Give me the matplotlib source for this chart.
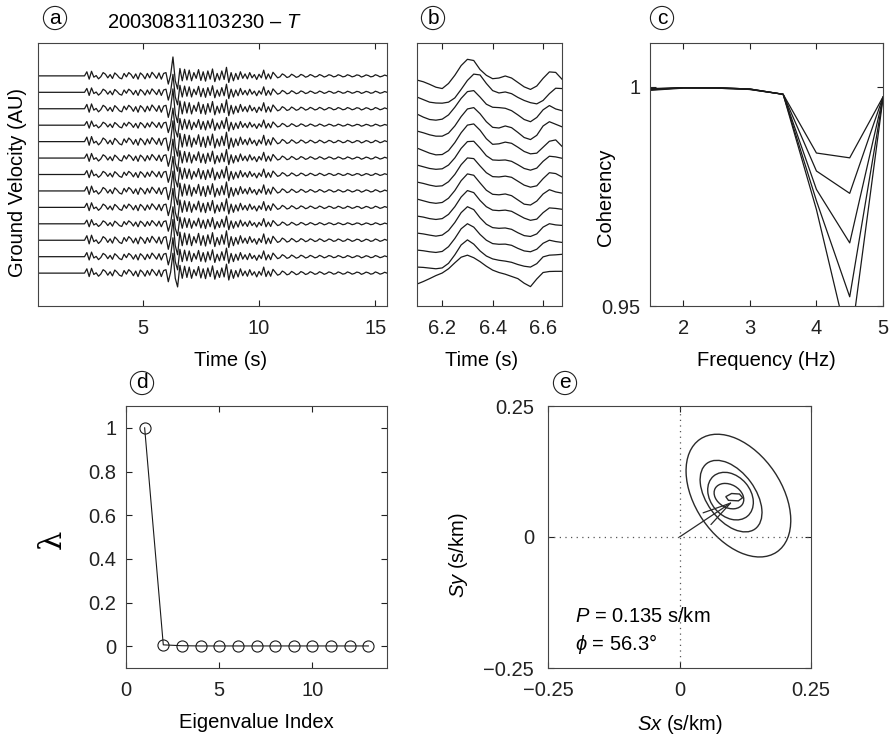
import numpy as np
import matplotlib
matplotlib.use("Agg")
import matplotlib.pyplot as plt
from matplotlib.patches import Ellipse, Polygon
from matplotlib.ticker import FuncFormatter

plt.rcParams['font.family'] = ['Liberation Sans', 'DejaVu Sans']
plt.rcParams['mathtext.fontset'] = 'custom'
plt.rcParams['mathtext.rm'] = 'Liberation Sans'
plt.rcParams['mathtext.it'] = 'Liberation Sans:italic'
plt.rcParams['font.size'] = 14.5

# --- (a) array record, one waveform per station (trace-spacing units) ---
n_traces = 13
a_onset = 2.5     # s, first sample after the flat pre-event part
a_dt = 0.1
a_wave = [
    0.00, 0.25, -0.20, 0.28, -0.08, 0.02, -0.18, -0.05, 0.20, 0.10,
    -0.12, 0.08, -0.16, 0.18, 0.05, -0.12, -0.18, 0.15, -0.06, 0.20,
    0.08, -0.15, 0.12, -0.20, 0.18, 0.05, -0.18, 0.15, -0.12, 0.22,
    0.05, -0.15, 0.18, -0.20, 0.15, 0.20, -0.50, 0.05, 1.15, -0.30,
    -0.80, 0.45, -0.30, 0.40, -0.25, 0.35, -0.30, 0.20, -0.15, 0.38,
    -0.28, 0.25, -0.32, 0.30, -0.20, 0.42, -0.35, 0.15, -0.25, 0.30,
    -0.22, 0.52, -0.40, 0.20, -0.30, 0.15, -0.22, 0.25, -0.15, 0.12,
    -0.18, 0.20, -0.12, 0.08, -0.22, 0.10, -0.12, 0.35, -0.20, 0.12,
    -0.18, 0.22, 0.05, -0.12, -0.06, 0.12, 0.04, -0.10, -0.05, 0.10,
    0.02, -0.09, -0.04, 0.09, 0.03, -0.08, -0.03, 0.08, 0.02, -0.07,
    -0.03, 0.08, 0.02, -0.07, -0.02, 0.07, 0.03, -0.06, -0.03, 0.07,
    0.02, -0.06, -0.03, 0.07, 0.02, -0.06, -0.02, 0.06, 0.03, -0.07,
    -0.02, 0.06, 0.02, -0.06, -0.03, 0.07, 0.02, -0.06, -0.02, 0.05, 0.00,
]
a_gain = [1.00, 0.95, 1.05, 0.90, 1.10, 1.00, 0.95, 1.05, 1.00, 0.90, 1.10, 1.00, 1.05]

# --- (b) zoom on the main arrival, top trace first ---
b_times = [6.100, 6.125, 6.150, 6.175, 6.200, 6.225, 6.250, 6.275,
           6.300, 6.325, 6.350, 6.375, 6.400, 6.425, 6.450, 6.475,
           6.500, 6.525, 6.550, 6.575, 6.600, 6.625, 6.650, 6.675]
b_traces = [
    [0.00, -0.10, -0.25, -0.42, -0.50, -0.20, 0.28, 0.85, 1.22, 1.15, 0.62, 0.28, 0.08, 0.12, 0.24, 0.12, -0.14, -0.40, -0.55, -0.35, 0.10, 0.48, 0.45, 0.05],
    [0.00, -0.15, -0.30, -0.35, -0.36, -0.30, -0.05, 0.45, 0.98, 1.35, 1.30, 0.80, 0.38, 0.24, 0.30, 0.20, -0.02, -0.20, -0.33, -0.40, -0.20, 0.20, 0.52, 0.50],
    [0.00, -0.18, -0.32, -0.36, -0.30, -0.05, 0.40, 0.92, 1.32, 1.38, 1.00, 0.58, 0.40, 0.38, 0.34, 0.20, -0.05, -0.32, -0.45, -0.20, 0.25, 0.50, 0.30, 0.20],
    [0.00, -0.10, -0.22, -0.30, -0.30, -0.12, 0.30, 0.85, 1.30, 1.38, 1.02, 0.55, 0.22, 0.18, 0.30, 0.20, -0.08, -0.38, -0.50, -0.25, 0.30, 0.55, 0.40, 0.25],
    [0.00, -0.15, -0.30, -0.40, -0.38, -0.15, 0.32, 0.90, 1.35, 1.42, 1.05, 0.55, 0.22, 0.25, 0.35, 0.28, 0.05, -0.20, -0.34, -0.30, 0.05, 0.40, 0.48, 0.10],
    [0.00, -0.10, -0.20, -0.25, -0.22, 0.00, 0.42, 0.98, 1.38, 1.40, 1.00, 0.55, 0.30, 0.28, 0.30, 0.22, 0.02, -0.20, -0.30, -0.18, 0.22, 0.52, 0.48, 0.40],
    [0.00, -0.08, -0.18, -0.25, -0.22, 0.02, 0.45, 1.02, 1.42, 1.38, 0.95, 0.55, 0.32, 0.30, 0.35, 0.28, 0.05, -0.18, -0.30, -0.22, 0.20, 0.55, 0.50, 0.30],
    [0.00, -0.10, -0.20, -0.25, -0.20, 0.05, 0.50, 1.08, 1.48, 1.40, 0.95, 0.52, 0.28, 0.25, 0.30, 0.20, -0.05, -0.30, -0.35, -0.12, 0.30, 0.55, 0.42, 0.35],
    [0.00, -0.06, -0.15, -0.20, -0.15, 0.10, 0.55, 1.12, 1.50, 1.38, 0.92, 0.55, 0.35, 0.32, 0.35, 0.28, 0.08, -0.12, -0.25, -0.18, 0.20, 0.48, 0.45, 0.40],
    [0.00, -0.05, -0.12, -0.18, -0.12, 0.15, 0.62, 1.20, 1.55, 1.38, 0.90, 0.52, 0.32, 0.28, 0.30, 0.22, 0.02, -0.15, -0.20, -0.05, 0.35, 0.55, 0.48, 0.45],
    [0.00, -0.04, -0.10, -0.14, -0.08, 0.20, 0.68, 1.25, 1.55, 1.35, 0.92, 0.58, 0.38, 0.34, 0.35, 0.28, 0.10, -0.05, -0.10, 0.05, 0.40, 0.58, 0.50, 0.45],
    [0.00, -0.02, -0.06, -0.10, -0.05, 0.22, 0.72, 1.30, 1.60, 1.35, 0.95, 0.65, 0.48, 0.40, 0.35, 0.28, 0.15, 0.05, 0.00, 0.20, 0.60, 0.70, 0.72, 0.75],
    [0.00, 0.15, 0.32, 0.50, 0.65, 0.90, 1.25, 1.58, 1.70, 1.55, 1.32, 1.05, 0.82, 0.68, 0.58, 0.45, 0.32, 0.05, -0.15, 0.30, 0.68, 0.74, 0.75, 0.75],
]

# --- (c) coherency vs frequency ---
freqs = [1.5, 2.0, 2.5, 3.0, 3.5, 4.0, 4.5, 5.0]
coherency = [
    [0.9996, 0.9998, 0.9998, 0.9995, 0.9983, 0.9849, 0.9838, 0.9977],
    [0.9995, 0.9998, 0.9998, 0.9995, 0.9983, 0.9808, 0.9757, 0.9977],
    [0.9994, 0.9998, 0.9998, 0.9995, 0.9983, 0.9766, 0.9644, 0.9976],
    [0.9993, 0.9998, 0.9997, 0.9994, 0.9983, 0.9740, 0.9521, 0.9975],
    [0.9992, 0.9997, 0.9997, 0.9994, 0.9983, 0.9720, 0.9400, 0.9974],
]

# --- (d) normalised eigenvalues ---
eig_index = list(range(1, 14))
eig_value = [1.0, 0.006, 0.002, 0.001, 0.001, 0.001, 0.001, 0.001,
             0.001, 0.001, 0.001, 0.001, 0.001]

# --- (e) slowness contours: centre x, centre y, width, height, angle ---
contour_cx = [0.112, 0.098, 0.097, 0.094]
contour_cy = [0.079, 0.078, 0.078, 0.078]
contour_w = [0.260, 0.155, 0.100, 0.060]
contour_h = [0.164, 0.092, 0.076, 0.044]
contour_ang = [124, 126, 130, 150]
peak_sx = [0.088, 0.099, 0.114, 0.120, 0.112, 0.093]
peak_sy = [0.077, 0.083, 0.082, 0.075, 0.069, 0.070]
slowness = 0.135   # s/km
azimuth = 56.3     # deg
quiver_scale = 0.9

W, H = 889, 734
fig = plt.figure(figsize=(W / 100, H / 100), dpi=100)


def box(l, t, r, b):
    return [l / W, 1 - b / H, (r - l) / W, (b - t) / H]


def style(ax):
    ax.tick_params(direction='in', top=True, right=True, length=4, width=0.8,
                   colors='#222222', labelsize=14.5)
    ax.tick_params(axis='x', pad=9)
    ax.tick_params(axis='y', pad=7)
    for s in ax.spines.values():
        s.set_linewidth(0.8)
        s.set_color('#444444')


fmt = FuncFormatter(lambda v, p: ('%g' % v).replace('-', '\u2212'))
ink = '#1a1a1a'

# (a)
ax = fig.add_axes(box(38, 43, 387, 306))
style(ax)
t_a = np.concatenate([[0.5], a_onset + a_dt * np.arange(len(a_wave))])
w_a = np.concatenate([[0.0], a_wave])
for k in range(n_traces):
    ax.plot(t_a, a_gain[k] * w_a + (n_traces - 1 - k), color=ink, lw=0.9)
ax.set_xlim(0.5, 15.5)
ax.set_ylim(-2, 14)
ax.set_xticks([5, 10, 15])
ax.xaxis.set_major_formatter(fmt)
ax.set_yticks([])
ax.set_xlabel('Time (s)')
ax.xaxis.set_label_coords((231 - 38) / 349, -0.17)
ax.set_ylabel('Ground Velocity (AU)')
ax.yaxis.set_label_coords(-0.032, 0.47)

# (b)
ax = fig.add_axes(box(417, 43, 562, 306))
style(ax)
for k, tr in enumerate(b_traces):
    ax.plot(b_times, np.array(tr) + (n_traces - 1 - k), color=ink, lw=0.9)
ax.set_xlim(6.1, 6.675)
ax.set_ylim(-1.29, 14.18)
ax.set_xticks([6.2, 6.4, 6.6])
ax.xaxis.set_major_formatter(fmt)
ax.set_yticks([])
ax.set_xlabel('Time (s)')
ax.xaxis.set_label_coords((482 - 417) / 145, -0.17)

# (c)
ax = fig.add_axes(box(650, 43, 883, 306))
style(ax)
for c in coherency:
    ax.plot(freqs, c, color=ink, lw=0.9)
ax.set_xlim(1.5, 5)
ax.set_ylim(0.95, 1.01)
ax.set_xticks([2, 3, 4, 5])
ax.set_yticks([0.95, 1.0])
ax.xaxis.set_major_formatter(fmt)
ax.yaxis.set_major_formatter(fmt)
ax.set_xlabel('Frequency (Hz)')
ax.xaxis.set_label_coords(0.5, -0.17)
ax.set_ylabel('Coherency')
ax.yaxis.set_label_coords(-0.15, 0.414)

# (d)
ax = fig.add_axes(box(126, 406, 387, 668))
style(ax)
ax.plot(eig_index, eig_value, color=ink, lw=0.8, marker='o', ms=8,
        mfc='none', mec=ink, mew=0.8)
ax.set_xlim(0, 14)
ax.set_ylim(-0.1, 1.1)
ax.set_xticks([0, 5, 10])
ax.set_yticks([0, 0.2, 0.4, 0.6, 0.8, 1.0])
ax.xaxis.set_major_formatter(fmt)
ax.yaxis.set_major_formatter(fmt)
ax.set_xlabel('Eigenvalue Index')
ax.xaxis.set_label_coords(0.5, -0.17)
ax.set_ylabel('\u03bb', family='DejaVu Serif', fontsize=22)
ax.yaxis.set_label_coords(-0.225, 0.49)

# (e)
ax = fig.add_axes(box(548, 406, 811, 668))
style(ax)
ax.tick_params(axis='y', pad=10)
ax.axvline(0, color='#555555', lw=0.9, ls=(0, (1, 3.5)))
ax.axhline(0, color='#555555', lw=0.9, ls=(0, (1, 3.5)))
for cx, cy, w, h, a in zip(contour_cx, contour_cy, contour_w, contour_h, contour_ang):
    ax.add_patch(Ellipse((cx, cy), w, h, angle=a, fill=False, ec='#2a2a2a', lw=1.0))
ax.add_patch(Polygon(np.column_stack([peak_sx, peak_sy]), closed=True,
                     fill=False, ec='#2a2a2a', lw=1.0))
sx = quiver_scale * slowness * np.sin(np.radians(azimuth))
sy = quiver_scale * slowness * np.cos(np.radians(azimuth))
ax.annotate('', xy=(sx, sy), xytext=(0, 0),
            arrowprops=dict(arrowstyle='->,head_length=1.4,head_width=0.35',
                            color='#2a2a2a', lw=0.9, shrinkA=0, shrinkB=0))
ax.text(-0.199, -0.152, '$P$ = %.3f s/km' % slowness, ha='left', va='center')
ax.text(-0.199, -0.205, '$\\phi$ = %.1f°' % azimuth, ha='left', va='center')
ax.set_xlim(-0.25, 0.25)
ax.set_ylim(-0.25, 0.25)
ax.set_xticks([-0.25, 0, 0.25])
ax.set_yticks([-0.25, 0, 0.25])
ax.xaxis.set_major_formatter(fmt)
ax.yaxis.set_major_formatter(fmt)
ax.set_xlabel('$Sx$ (s/km)')
ax.xaxis.set_label_coords(0.5, -0.17)
ax.set_ylabel('$Sy$ (s/km)')
ax.yaxis.set_label_coords(-0.297, 0.43)

# panel letters and title
for letter, (px, py) in zip('abcde', [(55, 18), (433, 18), (662, 18), (142, 383), (565, 383)]):
    fig.text(px / W, 1 - py / H, letter, ha='center', va='center', fontsize=15,
             bbox=dict(boxstyle='circle,pad=0.1', fc='white', ec='#222222', lw=0.8))
fig.text(204 / W, 1 - 23 / H, '20030831103230 \u2013 $T$', ha='center', va='center',
         fontsize=14.5)

fig.savefig('out.png', dpi=100)
